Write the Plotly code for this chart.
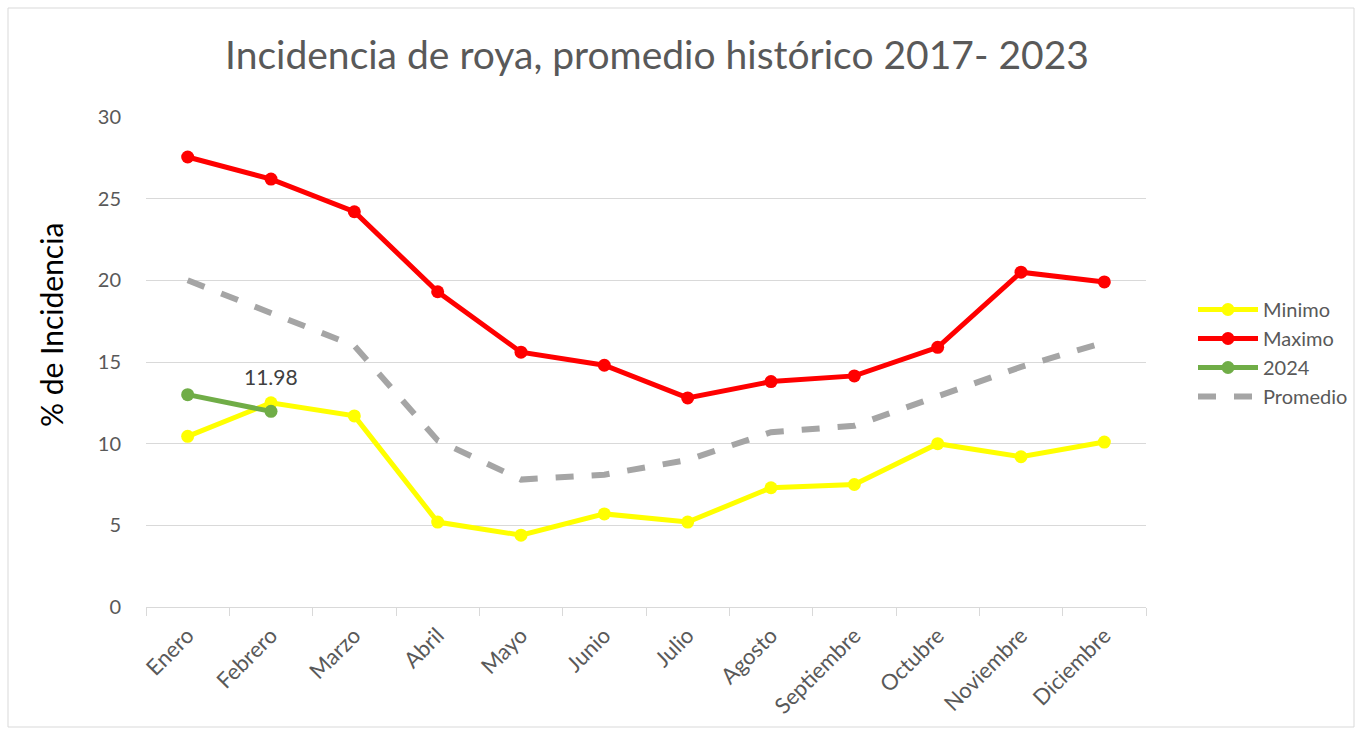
import plotly.graph_objects as go

meses = ["Enero", "Febrero", "Marzo", "Abril", "Mayo", "Junio", "Julio",
         "Agosto", "Septiembre", "Octubre", "Noviembre", "Diciembre"]
minimo = [10.45, 12.5, 11.7, 5.2, 4.4, 5.7, 5.2, 7.3, 7.5, 10.0, 9.2, 10.1]
maximo = [27.55, 26.2, 24.2, 19.3, 15.6, 14.8, 12.8, 13.8, 14.15, 15.9, 20.5, 19.9]
anio_2024 = [13.0, 11.98]
promedio = [20.0, 18.0, 16.0, 10.2, 7.8, 8.1, 9.0, 10.7, 11.1, 12.9, 14.7, 16.2]
yticks = [0, 5, 10, 15, 20, 25, 30]

W, H = 1356, 729
L, R, T, B = 146, 210, 117, 122
PW, PH = W - L - R, H - T - B
FONT = "Lato"

fig = go.Figure()
fig.add_trace(go.Scatter(x=meses, y=minimo, name="Minimo", mode="lines+markers",
                         line=dict(color="#FFFF00", width=5), marker=dict(size=13, color="#FFFF00")))
fig.add_trace(go.Scatter(x=meses, y=maximo, name="Maximo", mode="lines+markers",
                         line=dict(color="#FF0000", width=5), marker=dict(size=13, color="#FF0000")))
fig.add_trace(go.Scatter(x=meses[:len(anio_2024)], y=anio_2024, name="2024", mode="lines+markers",
                         line=dict(color="#70AD47", width=5), marker=dict(size=13, color="#70AD47")))
fig.add_trace(go.Scatter(x=meses, y=promedio, name="Promedio", mode="lines",
                         line=dict(color="#A5A5A5", width=6, dash="dash")))

fig.add_annotation(x=meses[1], y=anio_2024[1], text=f"{anio_2024[1]:.2f}", showarrow=False,
                   yshift=35, font=dict(size=21, color="#404040", family=FONT))

# y-axis title as annotation for precise placement
fig.add_annotation(xref="paper", yref="paper", x=(51 - L) / PW, y=(H - B - 325) / PH,
                   text="% de Incidencia", textangle=-90, showarrow=False,
                   xanchor="center", yanchor="middle",
                   font=dict(size=30, color="#000000", family=FONT))

# outer chart border
fig.add_shape(type="rect", xref="paper", yref="paper",
              x0=(8 - L) / PW, x1=(1354 - L) / PW,
              y0=(H - B - 727) / PH, y1=(H - B - 8) / PH,
              line=dict(color="#D9D9D9", width=1), layer="below")

fig.update_layout(
    width=W, height=H,
    margin=dict(l=L, r=R, t=T, b=B, autoexpand=False),
    paper_bgcolor="white", plot_bgcolor="white",
    title=dict(text="Incidencia de roya, promedio histórico 2017- 2023",
               x=657 / W, xanchor="center", y=1 - 55 / H, yanchor="middle",
               font=dict(size=39, color="#595959", family=FONT)),
    font=dict(family=FONT, color="#595959"),
    legend=dict(x=1.047, y=(H - B - 290) / PH, xanchor="left", yanchor="top",
                font=dict(size=20, color="#595959", family=FONT), tracegroupgap=0,
                itemwidth=60),
    showlegend=True,
)
fig.update_xaxes(type="category", range=[-0.5, 11.5], tickangle=-45,
                 tickfont=dict(size=22, color="#595959"),
                 showline=True, linecolor="#D9D9D9", linewidth=1,
                 ticks="outside", ticklen=8, tickcolor="#D9D9D9",
                 tickson="boundaries", showgrid=False, ticklabelstandoff=6,
                 automargin=False)
fig.update_yaxes(range=[0, 30], tickvals=yticks, showgrid=True, gridcolor="#D9D9D9",
                 gridwidth=1, zeroline=False, tickfont=dict(size=20, color="#595959"),
                 ticklen=0, ticks="", ticklabelstandoff=24, automargin=False)

fig.write_html("out.html")
